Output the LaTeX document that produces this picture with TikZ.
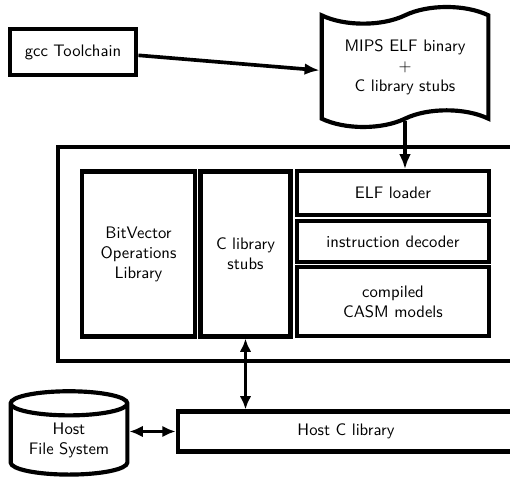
\documentclass[tikz,border=0pt]{standalone}
\usepackage{amsmath}
\usepackage{tikz}
\usetikzlibrary{shapes.geometric,shapes.symbols,arrows.meta}

\begin{document}
\begin{tikzpicture}[x=0.6pt,y=0.6pt,font=\sffamily,
    blk/.style={draw,line width=2.5pt,rectangle,align=center,inner sep=0pt},
    tip/.style={-{Latex[length=9pt,width=7pt]},line width=2.2pt},
    dtip/.style={{Latex[length=8pt,width=7pt]}-{Latex[length=8pt,width=7pt]},line width=2.2pt}]
    \useasboundingbox (0,0) rectangle (510,477);
    \clip (0,0) rectangle (510,477);

    \node[blk,minimum width=76pt,minimum height=28pt] (gcc) at (73,425) {gcc Toolchain};
    \node[draw,line width=2.5pt,tape,tape bend height=10pt,align=center,
          minimum width=100pt,minimum height=72pt] (elfbin) at (405,410)
          {MIPS ELF binary\\$+$\\C library stubs};

    \node[blk,minimum width=274pt,minimum height=128pt] (sim) at (286,223) {};
    \node[blk,minimum width=68pt,minimum height=99pt] (bitvec) at (138.5,223)
          {BitVector\\Operations\\Library};
    \node[blk,minimum width=54pt,minimum height=99pt] (stubs) at (245.5,223)
          {C library\\stubs};
    \node[blk,minimum width=115pt,minimum height=26pt] (elf) at (393,284) {ELF loader};
    \node[blk,minimum width=115pt,minimum height=25pt] (dec) at (393,235.5) {instruction decoder};
    \node[blk,minimum width=115pt,minimum height=41pt] (casm) at (393,175.5)
          {compiled\\CASM models};

    \node[blk,minimum width=202pt,minimum height=24pt] (hostc) at (346,45.5) {Host C library};
    \node[draw,line width=2.5pt,cylinder,shape border rotate=90,aspect=0.3,align=center,
          minimum width=70pt,minimum height=50pt,inner sep=0pt] (hfs) at (69,37)
          {Host\\File System};

    \draw[tip] ([yshift=-2pt]gcc.east) -- ([yshift=-2pt]elfbin.west);
    \draw[tip] (elfbin.south) -- (elfbin.south |- elf.north);
    \draw[dtip] (stubs.south) -- (stubs.south |- hostc.north);
    \draw[dtip] (hostc.west -| hfs.east) -- (hostc.west);
\end{tikzpicture}
\end{document}
